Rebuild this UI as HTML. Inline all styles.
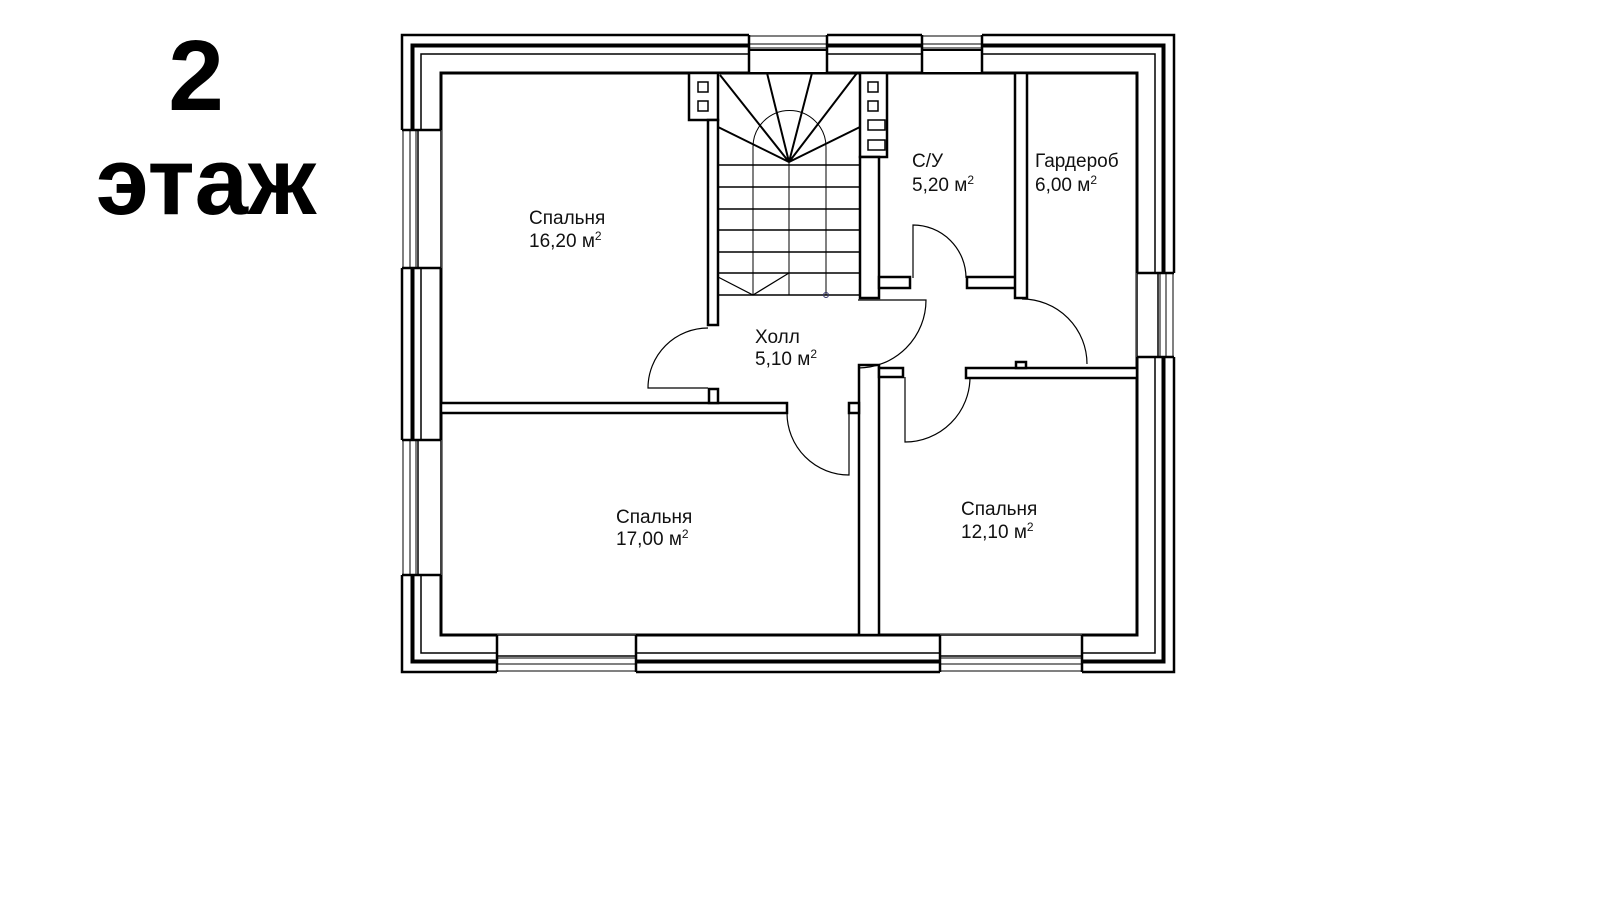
<!DOCTYPE html>
<html><head><meta charset="utf-8"><style>
html,body{margin:0;padding:0;background:#fff;width:1600px;height:900px;overflow:hidden}
svg{position:absolute;left:0;top:0}
.t{font-family:"Liberation Sans",sans-serif;font-size:19px;fill:#111}
.big{font-family:"Liberation Sans",sans-serif;font-weight:bold;fill:#000}
</style></head><body>
<svg width="1600" height="900" viewBox="0 0 1600 900">
<text class="big" x="196" y="110" font-size="100" text-anchor="middle">2</text>
<text class="big" x="206" y="214" font-size="96" text-anchor="middle">этаж</text>

<!-- exterior wall -->
<g fill="none" stroke="#000">
<rect x="402" y="35" width="772" height="637" stroke-width="2.5"/>
<rect x="412.5" y="45.5" width="751" height="616" stroke-width="4"/>
<rect x="421" y="54" width="734" height="599" stroke-width="1.5"/>
<rect x="441" y="73" width="696" height="562" stroke-width="3"/>
</g>

<!-- windows -->
<g stroke="#000" fill="#fff">
<rect x="749" y="33" width="78" height="41" stroke="none"/>
<rect x="922" y="33" width="60" height="41" stroke="none"/>
<rect x="400" y="130" width="42" height="138" stroke="none"/>
<rect x="400" y="440" width="42" height="135" stroke="none"/>
<rect x="1136" y="273" width="40" height="84" stroke="none"/>
<rect x="497" y="634" width="139" height="40" stroke="none"/>
<rect x="940" y="634" width="142" height="40" stroke="none"/>
</g>
<g stroke="#000" fill="none">
<path d="M749,36H827M749,44H827M749,48H827 M922,36H982M922,44H982M922,48H982" stroke-width="1"/>
<rect x="749" y="50" width="78" height="23" stroke-width="2"/>
<rect x="922" y="50" width="60" height="23" stroke-width="2"/>
<path d="M749,35V73M827,35V73M922,35V73M982,35V73" stroke-width="2.5"/>
<path d="M403,130V268M410,130V268M416,130V268 M403,440V575M410,440V575M416,440V575" stroke-width="1"/>
<rect x="418" y="130" width="23" height="138" stroke-width="1.5"/>
<rect x="418" y="440" width="23" height="135" stroke-width="1.5"/>
<path d="M402,130H441M402,268H441M402,440H441M402,575H441" stroke-width="2.5"/>
<path d="M1173,273V357M1166,273V357M1160,273V357" stroke-width="1"/>
<rect x="1137" y="273" width="21" height="84" stroke-width="1.5"/>
<path d="M1137,273H1174M1137,357H1174" stroke-width="2.5"/>
<path d="M497,671H636M497,664H636M497,658H636 M940,671H1082M940,664H1082M940,658H1082" stroke-width="1"/>
<rect x="497" y="635" width="139" height="21" stroke-width="1.5"/>
<rect x="940" y="635" width="142" height="21" stroke-width="1.5"/>
<path d="M497,635V672M636,635V672M940,635V672M1082,635V672" stroke-width="2.5"/>
</g>

<!-- interior walls -->
<g fill="#fff" stroke="#000" stroke-width="2.5">
<rect x="689" y="73" width="29" height="47"/>
<rect x="708" y="120" width="10" height="205"/>
<rect x="860" y="73" width="27" height="84"/>
<rect x="860" y="157" width="19" height="141"/>
<rect x="879" y="277" width="31" height="11"/>
<rect x="967" y="277" width="56" height="11"/>
<rect x="1015" y="73" width="12" height="225"/>
<rect x="441" y="403" width="346" height="10"/>
<rect x="709" y="389" width="9" height="14"/>
<rect x="859" y="365" width="20" height="270"/>
<rect x="879" y="368" width="24" height="9"/>
<rect x="849" y="403" width="10" height="10"/>
<rect x="966" y="368" width="171" height="10"/>
<rect x="1016" y="362" width="10" height="6"/>
</g>
<g fill="#fff" stroke="#000" stroke-width="1.5">
<rect x="698" y="82" width="10" height="10"/>
<rect x="698" y="101" width="10" height="10"/>
<rect x="868" y="82" width="10" height="10"/>
<rect x="868" y="101" width="10" height="10"/>
<rect x="868" y="120" width="17" height="10"/>
<rect x="868" y="140" width="17" height="10"/>
</g>

<!-- stairs -->
<g stroke="#000" fill="none">
<path d="M718,165H860M718,187H860M718,209H860M718,230H860M718,252H860M718,273H860M718,295H860" stroke-width="1.5"/>
<path d="M753,147V295M826,147V295M789,162V295" stroke-width="1"/>
<path d="M753,147A36.5,36.5 0 0 1 826,147" stroke-width="1"/>
<path d="M789,162L720,75M789,162L767,73M789,162L812,73M789,162L857,73M789,162L718,127M789,162L860,127" stroke-width="2"/>
<path d="M718,277L753,295L789,273" stroke-width="1.2"/>
<circle cx="826" cy="295" r="2.5" stroke="#336" stroke-width="1"/>
</g>

<!-- doors -->
<g stroke="#000" fill="none" stroke-width="1.2">
<path d="M913,278V225A53,53 0 0 1 966,278"/>
<path d="M858,300H926A68,68 0 0 1 858,368"/>
<path d="M1022,299A65,65 0 0 1 1087,364"/>
<path d="M708,388H648A60,60 0 0 1 708,328"/>
<path d="M849,413V475A62,62 0 0 1 787,413"/>
<path d="M905,377V442A65,65 0 0 0 970,377"/>
</g>

<!-- labels -->
<g class="t">
<text x="529" y="224">Спальня</text>
<text x="529" y="247">16,20 м<tspan font-size="12" dy="-7">2</tspan></text>
<text x="912" y="167">С/У</text>
<text x="912" y="191">5,20 м<tspan font-size="12" dy="-7">2</tspan></text>
<text x="1035" y="167">Гардероб</text>
<text x="1035" y="191">6,00 м<tspan font-size="12" dy="-7">2</tspan></text>
<text x="755" y="343">Холл</text>
<text x="755" y="365">5,10 м<tspan font-size="12" dy="-7">2</tspan></text>
<text x="616" y="523">Спальня</text>
<text x="616" y="545">17,00 м<tspan font-size="12" dy="-7">2</tspan></text>
<text x="961" y="515">Спальня</text>
<text x="961" y="538">12,10 м<tspan font-size="12" dy="-7">2</tspan></text>
</g>
</svg>
</body></html>
